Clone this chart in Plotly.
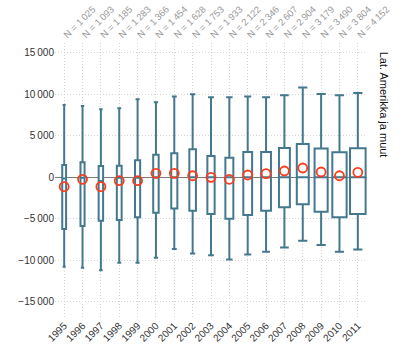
import plotly.graph_objects as go

years = ["1995", "1996", "1997", "1998", "1999", "2000", "2001", "2002", "2003",
         "2004", "2005", "2006", "2007", "2008", "2009", "2010", "2011"]
n_labels = ["N = 1\u2009025", "N = 1\u2009093", "N = 1\u2009185", "N = 1\u2009283", "N = 1\u2009366",
            "N = 1\u2009454", "N = 1\u2009628", "N = 1\u2009753", "N = 1\u2009933", "N = 2\u2009122",
            "N = 2\u2009346", "N = 2\u2009607", "N = 2\u2009904", "N = 3\u2009179", "N = 3\u2009490",
            "N = 3\u2009804", "N = 4\u2009152"]
n_counts = [1025, 1093, 1185, 1283, 1366, 1454, 1628, 1753, 1933, 2122,
            2346, 2607, 2904, 3179, 3490, 3804, 4152]
upper = [8730, 8610, 8210, 8330, 9420, 9060, 9740, 10030, 9660, 9660,
         9740, 9660, 9900, 10820, 10060, 9900, 10180]
q3 = [1490, 1810, 1360, 1400, 2050, 2730, 2900, 3380, 2570, 2370,
      3060, 3060, 3540, 4020, 3460, 3020, 3500]
median = [-150, -50, -450, -50, -50, 0, 0, 0, 0, 0,
          0, 0, 0, 0, 0, 0, 0]
q1 = [-6250, -5880, -5240, -5160, -4830, -4280, -3750, -4030, -4430, -5000,
      -4550, -4030, -3620, -3260, -4160, -4830, -4430]
lower = [-10800, -10920, -11200, -10310, -10310, -9710, -8660, -9180, -9390, -9900,
         -9300, -8990, -8460, -7660, -8180, -8990, -8700]
means = [-1130, -240, -1130, -410, -410, 480, 480, 190, 0, -240,
         280, 440, 760, 1120, 640, 190, 600]
y_ticks = [-15000, -10000, -5000, 0, 5000, 10000, 15000]
y_tick_text = ["\u221215\u2009000", "\u221210\u2009000", "\u22125\u2009000", "0",
               "5\u2009000", "10\u2009000", "15\u2009000"]
facet_label = "Lat. Amerikka ja muut"

BOX_COLOR = "#44788e"
MEAN_COLOR = "#ff3a1a"
GRID = "#d4d4d4"
nmax = max(n_counts)

fig = go.Figure()
for i, yr in enumerate(years):
    w = 0.85 * n_counts[i] / nmax
    fig.add_trace(go.Box(
        x=[yr], q1=[q1[i]], median=[median[i]], q3=[q3[i]],
        lowerfence=[lower[i]], upperfence=[upper[i]],
        width=w, whiskerwidth=min(0.8, 0.5 / w),
        line=dict(color=BOX_COLOR, width=2), fillcolor="white",
        boxpoints=False, showlegend=False, hoverinfo="skip",
    ))

fig.add_trace(go.Scatter(
    x=years, y=means, mode="markers",
    marker=dict(symbol="circle-open", size=9, color=MEAN_COLOR, line=dict(width=1.8)),
    showlegend=False,
))

# invisible trace to activate the top axis
fig.add_trace(go.Scatter(
    x=list(range(len(years))), y=[None] * len(years), xaxis="x2",
    mode="markers", showlegend=False, hoverinfo="skip",
))

fig.update_layout(
    width=400, height=350,
    margin=dict(l=55, r=33, t=43, b=33),
    paper_bgcolor="white", plot_bgcolor="white",
    boxmode="overlay",
    font=dict(family="Liberation Sans, Arial, sans-serif", size=10, color="#333333"),
    xaxis=dict(
        type="category", categoryorder="array", categoryarray=years,
        range=[-0.5, len(years) - 0.5], automargin=False,
        tickangle=-45, tickfont=dict(size=10, color="#333333"),
        showgrid=True, gridcolor=GRID, griddash="1px,2px", gridwidth=1,
        zeroline=False, showline=False, ticks="",
    ),
    xaxis2=dict(
        overlaying="x", side="top", anchor="y", automargin=False,
        range=[-0.5, len(years) - 0.5],
        tickmode="array", tickvals=list(range(len(years))), ticktext=n_labels,
        tickangle=-45, tickfont=dict(size=9.5, color="#9a9a9a"),
        showgrid=False, zeroline=False, showline=False, ticks="",
    ),
    yaxis=dict(
        range=[-16850, 16200], automargin=False,
        tickmode="array", tickvals=y_ticks, ticktext=y_tick_text,
        tickfont=dict(size=10, color="#333333"),
        showgrid=True, gridcolor=GRID, griddash="1px,2px", gridwidth=1,
        zeroline=True, zerolinecolor="#7a7a7a", zerolinewidth=1,
        showline=False, ticks="",
    ),
    annotations=[dict(
        text=facet_label, textangle=90,
        xref="paper", yref="paper", x=1.0, y=0.775,
        xanchor="left", yanchor="middle", xshift=9,
        showarrow=False, font=dict(size=11, color="#111111"),
    )],
)

fig.write_html("out.html")
